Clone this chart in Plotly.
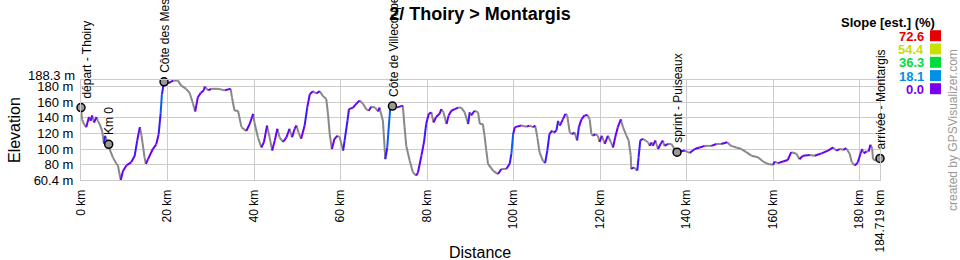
import plotly.graph_objects as go

# ---------------- data ----------------
distance_km = [
    0.0, 0.23, 0.69, 1.2, 1.85, 2.2, 2.6, 3.0, 3.6, 3.9, 4.3, 4.9, 5.3, 5.6, 6.2, 6.4,
    6.6, 7.4, 8.2, 8.55, 8.9, 9.2, 9.7, 10.5, 11.6, 12.4, 13.0, 13.6, 14.0, 14.7, 15.0,
    15.5, 16.6, 17.4, 17.95, 18.4, 18.7, 19.2, 20.1, 21.3, 22.4, 23.2, 24.3, 25.1, 25.9,
    26.4, 27.0, 27.7, 28.4, 28.6, 29.4, 30.1, 31.7, 33.2, 34.6, 34.9, 35.5, 36.3, 37.1,
    38.2, 39.0, 39.8, 40.1, 40.9, 41.7, 42.3, 43.0, 43.6, 44.2, 44.8, 45.4, 45.9, 46.7,
    47.5, 48.2, 48.8, 49.4, 49.8, 50.3, 50.9, 51.7, 52.3, 52.9, 53.6, 54.4, 55.2, 55.9,
    56.7, 57.1, 57.5, 58.0, 58.6, 59.3, 59.8, 60.6, 60.95, 61.6, 61.95, 62.9, 63.65, 64.4,
    65.2, 65.95, 66.5, 67.1, 68.0, 68.7, 69.0, 69.8, 70.35, 70.8, 71.2, 71.5, 72.0, 72.9,
    74.4, 74.8, 75.2, 76.0, 76.75, 77.5, 77.9, 78.7, 79.3, 79.8, 80.4, 81.0, 81.5, 82.1,
    82.9, 83.3, 83.8, 84.5, 85.0, 85.6, 86.4, 87.2, 87.9, 88.7, 89.5, 89.85, 90.2, 91.0,
    91.8, 92.2, 92.9, 93.3, 93.7, 94.1, 95.3, 96.4, 97.2, 98.3, 99.1, 99.5, 99.9, 100.3,
    101.8, 103.0, 103.7, 104.5, 105.0, 105.5, 106.0, 106.8, 107.3, 107.8, 108.3, 108.9,
    109.3, 109.9, 110.3, 110.7, 111.4, 112.0, 112.4, 113.0, 113.5, 114.1, 114.7, 115.1,
    115.7, 116.4, 117.1, 117.6, 118.0, 118.4, 118.9, 119.5, 119.9, 120.4, 121.1, 121.8,
    122.5, 123.0, 123.5, 124.1, 124.8, 125.3, 126.1, 126.6, 127.1, 127.2, 127.8, 128.6,
    128.9, 129.3, 129.9, 130.5, 131.1, 131.5, 131.9, 132.2, 132.8, 133.4, 134.0, 134.5,
    134.9, 135.7, 136.5, 137.2, 137.8, 139.6, 140.7, 141.9, 143.0, 144.2, 145.7, 146.9,
    148.0, 149.4, 150.3, 151.5, 152.7, 153.8, 155.0, 156.5, 157.7, 158.8, 160.0, 160.4,
    161.1, 162.3, 163.4, 164.2, 165.4, 166.1, 166.9, 168.5, 169.6, 171.2, 172.7, 173.9,
    174.6, 175.4, 176.2, 176.9, 177.7, 178.2, 178.9, 179.6, 180.2, 180.6, 181.0, 181.6,
    182.1, 182.5, 182.9, 183.1, 183.9, 184.719,
]
elevation_m = [
    153, 138, 132, 128, 141, 136, 143, 134, 141, 136, 132, 123, 107, 117, 107, 106,
    100, 89, 81, 79, 68, 60.4, 72, 79, 83, 91, 111, 128, 117, 89, 81,
    87, 100, 106, 119, 145, 170, 186, 184, 187.5, 187.5, 181, 177, 172, 158,
    148, 166, 172, 175, 180, 175, 177, 177, 175, 177, 166, 149, 149, 128,
    123, 132, 145, 134, 115, 102, 109, 130, 115, 98, 111, 126, 115, 109,
    115, 126, 115, 126, 130, 121, 113, 130, 153, 170, 174, 171, 174, 168,
    164, 145, 119, 100, 113, 117, 115, 98, 111, 136, 151, 153, 158, 162,
    158, 151, 149, 154, 153, 148, 153, 136, 87, 102, 132, 153, 155, 153,
    155.5, 128, 104, 85, 70, 66, 70, 91.5, 109, 132, 145, 147, 134, 141,
    145, 151, 147, 132, 143, 149, 151, 153, 153, 147, 132, 147, 143, 149,
    147, 132, 132, 117, 98, 81, 72, 68, 74.5, 74.5, 81, 94, 119, 128,
    130, 128.6, 130, 128, 130, 115, 96, 85, 82, 98, 119, 123.5,
    121, 123.5, 136, 130, 138, 145, 143, 121, 119, 121, 111, 128,
    138, 143, 143.5, 138, 119, 117, 119, 117, 109, 117, 106.5, 117,
    109, 102, 115, 128, 138, 128, 117, 111, 91.5, 74.5, 76.6, 72.4,
    89, 111, 113, 111, 108.6, 104, 108.6, 104, 111, 100, 106.5, 111,
    104, 106.5, 106.5, 100, 96, 98, 95, 100, 102, 104, 104, 106.5,
    106.5, 108.6, 104, 102, 100, 96, 91.5, 89.4, 84, 81, 80, 84,
    82, 84, 86, 96, 94, 87, 91.5, 92.4, 91.5, 94.5, 98, 102,
    98, 100, 99, 101, 94, 83, 79, 83, 94, 100, 94.5, 97,
    97, 105.6, 101, 87, 85, 88,
]

waypoint_names = ["départ - Thoiry", "Km 0", "Côte des Mesnils", "Côte de Villecoupe",
                  "sprint - Puiseaux", "arrivée - Montargis"]
waypoint_km = [0.0, 6.4, 19.2, 72.0, 137.8, 184.719]
waypoint_elev = [153, 106, 186, 155, 96, 88]

x_tick_values = [0, 20, 40, 60, 80, 100, 120, 140, 160, 180, 184.719]
x_tick_labels = ["0 km", "20 km", "40 km", "60 km", "80 km", "100 km", "120 km",
                 "140 km", "160 km", "180 km", "184.719 km"]
y_tick_values = [60.4, 80, 100, 120, 140, 160, 180, 188.3]
y_tick_labels = ["60.4 m", "80 m", "100 m", "120 m", "140 m", "160 m", "180 m", "188.3 m"]

slope_legend_values = ["72.6", "54.4", "36.3", "18.1", "0.0"]
slope_legend_colors = ["#e60000", "#c8e000", "#00dd3a", "#0090e6", "#7700ee"]

# ---------------- layout geometry ----------------
W, H = 960, 260
L, R, T, B = 81, 80, 80, 80
PW, PH = W - L - R, H - T - B
FONT = "Liberation Sans, Arial, sans-serif"


def px_x(px):
    return (px - L) / PW


def px_y(py):
    return (H - B - py) / PH


def seg_color(d0, e0, d1, e1):
    dist = (d1 - d0) * 1000.0
    if dist <= 0:
        return "#888888"
    slope = (e1 - e0) / dist * 100
    if slope <= 0:
        return "#888888"
    if slope < 3.0:
        return "#6a00f4"
    if slope < 6.0:
        return "#3a18ff"
    return "#0a5cf0"


groups = {}
for i in range(len(distance_km) - 1):
    c = seg_color(distance_km[i], elevation_m[i], distance_km[i + 1], elevation_m[i + 1])
    gx, gy = groups.setdefault(c, ([], []))
    gx += [distance_km[i], distance_km[i + 1], None]
    gy += [elevation_m[i], elevation_m[i + 1], None]

fig = go.Figure()
for c, (gx, gy) in groups.items():
    fig.add_trace(go.Scatter(x=gx, y=gy, mode="lines", line=dict(color=c, width=2),
                             hoverinfo="skip", showlegend=False, cliponaxis=False))

fig.add_trace(go.Scatter(
    x=waypoint_km, y=waypoint_elev, mode="markers",
    marker=dict(symbol="circle", size=8, color="#999999", line=dict(color="#000000", width=1.5)),
    showlegend=False, cliponaxis=False, hovertext=waypoint_names))

annotations = []
for name, k, e in zip(waypoint_names, waypoint_km, waypoint_elev):
    annotations.append(dict(
        x=k, y=e, xref="x", yref="y", text=name, textangle=-90, showarrow=False,
        xanchor="center", yanchor="bottom", yshift=7, xshift=6 if k == 0 else 1,
        font=dict(family=FONT, size=12, color="#000000")))

# top elevation label drawn slightly above its grid line (as in the reference)
annotations.append(dict(x=px_x(77), y=px_y(75), xref="paper", yref="paper",
                        text=y_tick_labels[-1], showarrow=False, xanchor="right",
                        yanchor="middle", font=dict(family=FONT, size=13, color="#000000")))
y_tick_text_shown = y_tick_labels[:-1] + [""]

# axis titles
annotations.append(dict(x=px_x(480), y=px_y(252), xref="paper", yref="paper", text="Distance",
                        showarrow=False, xanchor="center", yanchor="middle",
                        font=dict(family=FONT, size=16, color="#000000")))
annotations.append(dict(x=px_x(14), y=px_y(130), xref="paper", yref="paper", text="Elevation",
                        textangle=-90, showarrow=False, xanchor="center", yanchor="middle",
                        font=dict(family=FONT, size=16, color="#000000")))
# slope legend
annotations.append(dict(x=px_x(937), y=px_y(22.5), xref="paper", yref="paper",
                        text="<b>Slope [est.] (%)</b>", showarrow=False,
                        xanchor="right", yanchor="middle",
                        font=dict(family=FONT, size=13, color="#000000")))
row_y = [35.7, 49.0, 62.3, 75.6, 88.7]
shapes = []
for v, c, ry in zip(slope_legend_values, slope_legend_colors, row_y):
    annotations.append(dict(x=px_x(926), y=px_y(ry), xref="paper", yref="paper",
                            text="<b>" + v + "</b>", showarrow=False,
                            xanchor="right", yanchor="middle", height=12,
                            font=dict(family=FONT, size=13, color=c)))
    shapes.append(dict(type="rect", xref="paper", yref="paper",
                       x0=px_x(930), x1=px_x(941), y0=px_y(ry + 5.5), y1=px_y(ry - 5.5),
                       fillcolor=c, line=dict(width=0)))
# credit
annotations.append(dict(x=px_x(953), y=px_y(130), xref="paper", yref="paper",
                        text="created by GPSVisualizer.com", textangle=-90, showarrow=False,
                        xanchor="center", yanchor="middle",
                        font=dict(family=FONT, size=12, color="#999999")))

grid = "#cccccc"
fig.update_layout(
    width=W, height=H,
    margin=dict(l=L, r=R, t=T, b=B, pad=0, autoexpand=False),
    paper_bgcolor="#ffffff", plot_bgcolor="#ffffff",
    title=dict(text="<b>2/ Thoiry > Montargis</b>", x=0.5, xanchor="center",
               y=1 - 14 / H, yanchor="middle", yref="container",
               font=dict(family=FONT, size=18, color="#000000")),
    xaxis=dict(range=[0, 184.719], tickvals=x_tick_values, ticktext=x_tick_labels,
               tickangle=-90, showgrid=True, gridcolor=grid, gridwidth=1, zeroline=False,
               showline=True, linecolor=grid, mirror=True, ticks="", automargin=False,
               ticklabelstandoff=4,
               tickfont=dict(family=FONT, size=12, color="#000000")),
    yaxis=dict(range=[60.4, 188.3], tickvals=y_tick_values, ticktext=y_tick_text_shown,
               showgrid=True, gridcolor=grid, gridwidth=1, zeroline=False,
               showline=True, linecolor=grid, mirror=True, ticks="", automargin=False,
               ticklabelstandoff=4,
               tickfont=dict(family=FONT, size=13, color="#000000")),
    annotations=annotations,
    shapes=shapes,
    showlegend=False,
)

fig.write_html("out.html")
